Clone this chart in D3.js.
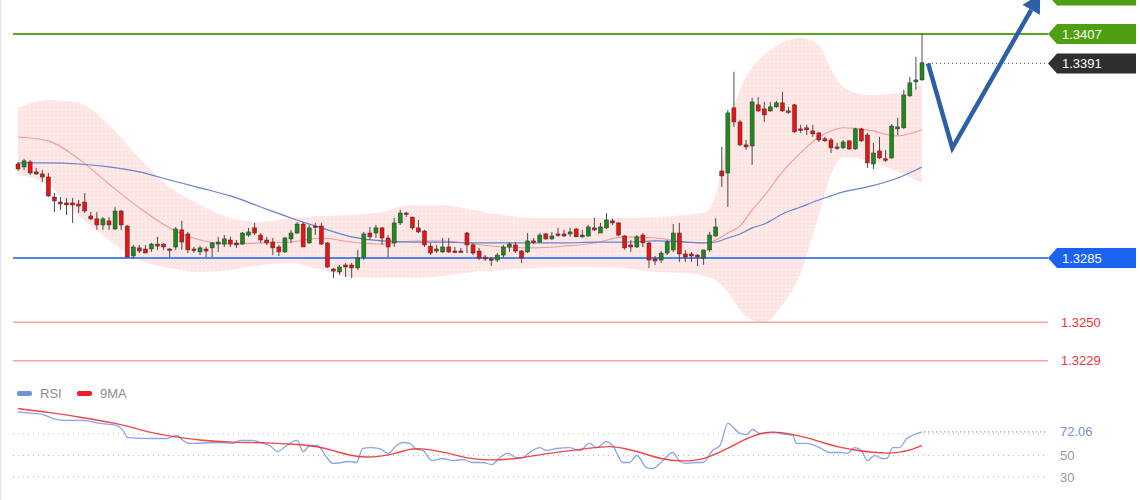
<!DOCTYPE html>
<html>
<head>
<meta charset="utf-8">
<script src="https://cdn.jsdelivr.net/npm/d3@7/dist/d3.min.js"></script>
<style>
  html, body { margin: 0; padding: 0; background: #fff; }
  svg { display: block; font-family: 'Liberation Sans', Arial, sans-serif; }
</style>
</head>
<body>
<svg id="chart" width="1140" height="500"></svg>
<script>
// candles, one per bar, index 0..149
const opens = [1.33362,1.33346,1.33373,1.33319,1.33308,1.33291,1.33182,1.33155,1.33150,1.33150,
  1.33144,1.33155,1.33079,1.33063,1.33030,1.33052,1.33008,1.33106,1.33024,1.32861,
  1.32905,1.32899,1.32899,1.32926,1.32926,1.32899,1.32910,1.33003,1.32981,1.32899,
  1.32883,1.32899,1.32905,1.32926,1.32926,1.32948,1.32932,1.32926,1.32975,1.33014,
  1.32975,1.32948,1.32937,1.32910,1.32883,1.32954,1.32986,1.33035,1.32932,1.33024,
  1.33024,1.32932,1.32790,1.32774,1.32812,1.32812,1.32796,1.32855,1.32986,1.32986,
  1.33014,1.32959,1.32932,1.33041,1.33095,1.33073,1.33014,1.32997,1.32915,1.32899,
  1.32883,1.32910,1.32888,1.32888,1.32986,1.32921,1.32888,1.32855,1.32845,1.32839,
  1.32866,1.32910,1.32921,1.32888,1.32883,1.32943,1.32937,1.32981,1.32954,1.32981,
  1.32981,1.32981,1.33008,1.32965,1.32970,1.33014,1.32986,1.33014,1.33052,1.33041,
  1.32970,1.32921,1.32910,1.32975,1.32932,1.32845,1.32839,1.32877,1.32894,1.32986,
  1.32872,1.32872,1.32866,1.32850,1.32894,1.32970,1.33324,1.33313,1.33668,1.33591,
  1.33466,1.33460,1.33684,1.33662,1.33651,1.33673,1.33695,1.33651,1.33684,1.33553,
  1.33559,1.33542,1.33531,1.33499,1.33493,1.33455,1.33450,1.33488,1.33444,1.33553,
  1.33520,1.33362,1.33433,1.33390,1.33395,1.33553,1.33559,1.33733,1.33809,1.33820];
const highs = [1.33373,1.33390,1.33384,1.33341,1.33330,1.33313,1.33204,1.33182,1.33177,1.33177,
  1.33166,1.33204,1.33101,1.33101,1.33073,1.33073,1.33128,1.33112,1.33030,1.32921,
  1.32921,1.32921,1.32932,1.32965,1.32932,1.32905,1.33019,1.33052,1.32992,1.32910,
  1.32915,1.32910,1.32937,1.32965,1.32975,1.32965,1.32948,1.32992,1.33014,1.33041,
  1.32986,1.32965,1.32959,1.32921,1.32965,1.33003,1.33046,1.33046,1.33030,1.33041,
  1.33041,1.32937,1.32796,1.32812,1.32823,1.32823,1.32894,1.32992,1.33019,1.33030,
  1.33019,1.32975,1.33068,1.33112,1.33101,1.33073,1.33057,1.33003,1.32932,1.32921,
  1.32959,1.32959,1.32910,1.32905,1.32992,1.32932,1.32905,1.32866,1.32855,1.32877,
  1.32921,1.32937,1.32937,1.32894,1.32986,1.32959,1.32986,1.32986,1.32992,1.33014,
  1.33003,1.33014,1.33014,1.33003,1.33030,1.33068,1.33041,1.33095,1.33063,1.33046,
  1.32975,1.32948,1.32975,1.32986,1.32937,1.32861,1.32888,1.32948,1.33035,1.33041,
  1.32894,1.32883,1.32872,1.32894,1.32992,1.33068,1.33455,1.33657,1.33864,1.33602,
  1.33493,1.33722,1.33727,1.33700,1.33700,1.33706,1.33755,1.33673,1.33689,1.33575,
  1.33575,1.33575,1.33537,1.33510,1.33504,1.33477,1.33493,1.33493,1.33559,1.33559,
  1.33531,1.33477,1.33510,1.33439,1.33580,1.33613,1.33766,1.33836,1.33945,1.34071];
const lows = [1.33324,1.33330,1.33302,1.33302,1.33264,1.33182,1.33101,1.33112,1.33084,1.33041,
  1.33095,1.33095,1.33057,1.33003,1.33003,1.33003,1.33003,1.33003,1.32855,1.32845,
  1.32877,1.32877,1.32883,1.32894,1.32894,1.32855,1.32894,1.32894,1.32877,1.32877,
  1.32866,1.32855,1.32855,1.32883,1.32910,1.32910,1.32905,1.32921,1.32965,1.32975,
  1.32932,1.32921,1.32866,1.32861,1.32877,1.32932,1.32981,1.32910,1.32926,1.32975,
  1.32921,1.32796,1.32741,1.32758,1.32747,1.32741,1.32785,1.32839,1.32948,1.32959,
  1.32921,1.32855,1.32910,1.33030,1.33073,1.33003,1.32986,1.32910,1.32866,1.32877,
  1.32877,1.32877,1.32877,1.32877,1.32877,1.32866,1.32839,1.32834,1.32806,1.32828,
  1.32850,1.32883,1.32877,1.32823,1.32877,1.32926,1.32932,1.32948,1.32948,1.32965,
  1.32965,1.32965,1.32965,1.32959,1.32965,1.32997,1.32986,1.33008,1.33030,1.32970,
  1.32894,1.32883,1.32905,1.32910,1.32796,1.32812,1.32823,1.32866,1.32883,1.32828,
  1.32828,1.32828,1.32806,1.32812,1.32883,1.32965,1.33237,1.33128,1.33564,1.33460,
  1.33439,1.33357,1.33646,1.33591,1.33646,1.33668,1.33646,1.33635,1.33531,1.33531,
  1.33520,1.33510,1.33482,1.33482,1.33422,1.33439,1.33444,1.33439,1.33439,1.33482,
  1.33341,1.33335,1.33390,1.33373,1.33390,1.33520,1.33553,1.33727,1.33766,1.33815];
const closes = [1.33335,1.33379,1.33313,1.33308,1.33291,1.33188,1.33161,1.33144,1.33139,1.33139,
  1.33133,1.33106,1.33063,1.33030,1.33063,1.33030,1.33106,1.33030,1.32855,1.32910,
  1.32888,1.32877,1.32926,1.32915,1.32910,1.32894,1.33008,1.32937,1.32894,1.32894,
  1.32905,1.32888,1.32932,1.32937,1.32954,1.32926,1.32921,1.32986,1.32992,1.32986,
  1.32948,1.32932,1.32905,1.32883,1.32959,1.32986,1.33035,1.32910,1.33014,1.33019,
  1.32926,1.32801,1.32779,1.32801,1.32801,1.32796,1.32850,1.32981,1.32965,1.33014,
  1.32959,1.32910,1.33041,1.33095,1.33090,1.33014,1.32992,1.32921,1.32877,1.32888,
  1.32910,1.32883,1.32883,1.32883,1.32921,1.32877,1.32850,1.32845,1.32839,1.32866,
  1.32910,1.32926,1.32888,1.32850,1.32943,1.32937,1.32975,1.32954,1.32970,1.32975,
  1.32970,1.32992,1.32965,1.32975,1.33019,1.33003,1.33019,1.33057,1.33041,1.32975,
  1.32905,1.32910,1.32965,1.32932,1.32839,1.32834,1.32877,1.32937,1.32986,1.32872,
  1.32855,1.32861,1.32855,1.32894,1.32975,1.33019,1.33297,1.33640,1.33591,1.33466,
  1.33455,1.33700,1.33651,1.33629,1.33673,1.33695,1.33651,1.33646,1.33537,1.33548,
  1.33548,1.33526,1.33493,1.33488,1.33450,1.33450,1.33482,1.33444,1.33553,1.33488,
  1.33368,1.33422,1.33395,1.33384,1.33569,1.33564,1.33738,1.33804,1.33820,1.33913];

// bollinger band / moving averages, sampled at these bar indices
const bandIdx = [0,5,10,15,20,25,30,35,40,45,50,55,60,65,70,75,80,85,90,95,100,105,110,113,115,117,119,121,123,126,129,132,134,136,140,145,149];
const bbUpper = [1.33668,1.33711,1.33695,1.33575,1.33395,1.33237,1.33139,1.33068,1.33046,1.33068,
  1.33079,1.33084,1.33101,1.33139,1.33139,1.33112,1.33084,1.33068,1.33068,1.33068,
  1.33068,1.33073,1.33084,1.33095,1.33193,1.33548,1.33766,1.33886,1.33956,1.34022,
  1.34049,1.34011,1.33875,1.33782,1.33738,1.33749,1.33793];
const bbLower = [1.33302,1.33248,1.33084,1.32948,1.32839,1.32796,1.32774,1.32785,1.32812,1.32823,
  1.32785,1.32747,1.32741,1.32741,1.32752,1.32774,1.32785,1.32796,1.32801,1.32801,
  1.32796,1.32774,1.32768,1.32752,1.32730,1.32665,1.32567,1.32512,1.32501,1.32594,
  1.32768,1.33084,1.33302,1.33400,1.33384,1.33319,1.33259];
const bbMid = [1.33509,1.33488,1.33390,1.33253,1.33123,1.33014,1.32948,1.32926,1.32932,1.32937,
  1.32959,1.32937,1.32926,1.32943,1.32943,1.32926,1.32910,1.32905,1.32915,1.32932,
  1.32965,1.32959,1.32937,1.32932,1.32948,1.32986,1.33024,1.33112,1.33188,1.33319,
  1.33422,1.33509,1.33542,1.33559,1.33548,1.33515,1.33548];
const maSlow = [1.33368,1.33368,1.33362,1.33346,1.33319,1.33275,1.33232,1.33188,1.33128,1.33068,
  1.33014,1.32965,1.32943,1.32937,1.32937,1.32932,1.32932,1.32932,1.32932,1.32937,
  1.32937,1.32943,1.32937,1.32932,1.32937,1.32959,1.32981,1.33014,1.33035,1.33090,
  1.33128,1.33166,1.33188,1.33210,1.33237,1.33286,1.33346];

// rsi panel
const rsiIdx = [0,2.5,4.1,5.8,8.1,10.7,13.5,16.3,17.3,18.1,21.7,24.5,26.2,27.2,28.3,32.8,35.4,36.6,38.7,40.4,
  41.5,42.8,44.3,46,47,48.1,49.3,50.9,51.9,54.7,55.8,56.8,58,59.6,61,62.4,63.4,64.6,65.7,66.7,
  68.2,70,71.7,73.3,75,76.6,78.1,79.4,80.7,82.2,83.2,84.3,86,87.1,88.8,90.9,92.6,94.2,95.4,97,
  98,99.7,100.8,102,103.6,104.6,106.3,107.9,109.1,110.2,111.9,112.9,114.5,115.7,117,119,120.1,121.1,122.2,124.4,
  126.7,127.7,128.3,130,132.1,133.8,135.4,136.7,137.9,139,140,141.2,142.5,143.2,144.2,145.3,146.5,147.4,149];
const rsiVal = [90.3,89.1,88.1,84.4,82.6,82.6,79.8,77.9,73.3,66.7,65.8,65.8,68.6,64,61.2,62.1,61.2,64,64,61.2,
  59.3,53.7,59.3,64,53.7,59.3,59.3,48.1,42.6,44.4,43.5,56.5,57.4,56.5,51.9,59.3,62.1,61.2,55.6,54.7,
  45.3,47.2,45.3,46.3,43.5,43.5,41.6,48.1,51.9,48.1,48.1,52.8,57.4,54.7,56.5,57.4,54.7,61.2,57.4,63,
  59.3,43.5,43.5,50,38.8,37.9,45.3,52.8,44.4,42.6,43.5,43.5,54.7,59.3,79.8,70.5,69.5,74.2,70.5,71.4,
  69.5,68.6,61.2,61.2,57.4,52.8,52.8,51.9,57.4,54.7,45.3,50,47.2,47.2,57.4,57.4,65.8,68.6,72.06];
const maIdx = [0,5.3,10.7,16.3,18.9,21.7,24.5,30,35.4,41,46.5,49.3,51.9,54.7,57.5,59.6,62.4,64.6,66.7,70.7,
  74,77.8,82.7,87.1,92.6,98,99.7,102.5,106.3,111.9,114.5,117.3,120.1,122.2,124.4,127.2,130,132.6,135.4,138.2,
  140.9,143.2,145.3,147.4,149];
const maVal = [93.7,90,85.3,79.8,76,71.4,68.6,64,62.1,62.1,60.2,58.4,54.7,50,48.1,49.1,51.9,56.5,56.5,52.8,
  47.2,45.3,47.2,51.9,55.6,59.3,56.5,53.7,45.3,44.4,50,57.4,65.8,70.5,72.3,70.5,66.7,62.1,57.4,54.7,
  52.8,51.9,52.8,55.6,59.3];
const rsiLevels = [70, 50, 30];
const rsiLast = 72.06;

// price levels on the right
const resistance = 1.3407;
const lastPrice = 1.3391;
const pivot = 1.3285;
const supports = [1.3250, 1.3229];
const target = 1.3428;
// forecast arrow: bar index / price
const arrowIdx = [150, 154, 167];
const arrowPrice = [1.3391, 1.33449, 1.34202];

const svg = d3.select('#chart');
const W = 1140, H = 500;
const lineEnd = 1048;

const x = d3.scaleLinear().domain([0, 149]).range([18, 922]);
const y = d3.scaleLinear().domain([pivot, resistance]).range([258, 34]);
const yR = d3.scaleLinear().domain([30, 70]).range([477, 434]);

svg.append('rect').attr('width', W).attr('height', H).attr('fill', '#fff');
svg.append('line')
  .attr('x1', 0.5).attr('x2', 0.5).attr('y1', 0).attr('y2', H)
  .attr('stroke', '#e3e4ec').attr('stroke-width', 1.5);

// dotted pattern for the band
const defs = svg.append('defs');
const pat = defs.append('pattern')
  .attr('id', 'bbDots')
  .attr('width', 4).attr('height', 4)
  .attr('patternUnits', 'userSpaceOnUse');
pat.append('rect').attr('width', 4).attr('height', 4).attr('fill', '#fde5e3');
pat.append('rect').attr('x', 1).attr('y', 1).attr('width', 1).attr('height', 1).attr('fill', '#fff');

// 布林带
const band = bandIdx.map((d, i) => ({ i: d, up: bbUpper[i], lo: bbLower[i], mid: bbMid[i], slow: maSlow[i] }));
svg.append('path')
  .datum(band)
  .attr('fill', 'url(#bbDots)')
  .attr('d', d3.area()
    .curve(d3.curveMonotoneX)
    .x(d => x(d.i))
    .y0(d => y(d.lo))
    .y1(d => y(d.up)));

svg.append('path')
  .datum(band)
  .attr('fill', 'none')
  .attr('stroke', '#f39a9a')
  .attr('stroke-width', 1.1)
  .attr('d', d3.line().curve(d3.curveMonotoneX).x(d => x(d.i)).y(d => y(d.mid)));

svg.append('path')
  .datum(band)
  .attr('fill', 'none')
  .attr('stroke', '#6283cf')
  .attr('stroke-width', 1.2)
  .attr('d', d3.line().curve(d3.curveMonotoneX).x(d => x(d.i)).y(d => y(d.slow)));

// 水平线
function hline(price, color, w, dash, x1) {
  svg.append('line')
    .attr('x1', x1 || 13).attr('x2', lineEnd)
    .attr('y1', y(price)).attr('y2', y(price))
    .attr('stroke', color)
    .attr('stroke-width', w)
    .attr('stroke-dasharray', dash || null);
}
hline(resistance, '#58a61e', 2);
hline(pivot, '#4d86e6', 2);
supports.forEach(p => hline(p, '#f7a5a5', 1.5));
hline(lastPrice, '#555', 1, '1,3', x(149) + 6);

// 蜡烛
const candles = opens.map((o, i) => ({ i, o, h: highs[i], l: lows[i], c: closes[i] }));
const cg = svg.append('g');
const bw = 4;
cg.selectAll('line').data(candles).enter().append('line')
  .attr('x1', d => x(d.i)).attr('x2', d => x(d.i))
  .attr('y1', d => y(d.h)).attr('y2', d => y(d.l))
  .attr('stroke', '#4a4a4a')
  .attr('stroke-width', 1);
cg.selectAll('rect').data(candles).enter().append('rect')
  .attr('x', d => x(d.i) - bw / 2)
  .attr('width', bw)
  .attr('y', d => y(Math.max(d.o, d.c)))
  .attr('height', d => Math.max(1.5, Math.abs(y(d.o) - y(d.c))))
  .attr('fill', d => d.c >= d.o ? '#1d8a1d' : '#ec1212')
  .attr('stroke', '#303030')
  .attr('stroke-width', 0.5);

// 箭头
const ap = arrowIdx.map((d, i) => [x(d), y(arrowPrice[i])]);
svg.append('path')
  .attr('d', d3.line()(ap))
  .attr('fill', 'none')
  .attr('stroke', '#2c5fa3')
  .attr('stroke-width', 4.5)
  .attr('stroke-linejoin', 'miter');
{
  const p1 = ap[1], p2 = ap[2];
  const dx = p2[0] - p1[0], dy = p2[1] - p1[1];
  const len = Math.hypot(dx, dy);
  const ux = dx / len, uy = dy / len;
  const px = -uy, py = ux;
  const tip = [p2[0] + ux * 18, p2[1] + uy * 18];
  const b1 = [p2[0] + px * 10, p2[1] + py * 10];
  const b2 = [p2[0] - px * 10, p2[1] - py * 10];
  svg.append('path')
    .attr('d', `M${tip[0]},${tip[1]} L${b1[0]},${b1[1]} L${b2[0]},${b2[1]} Z`)
    .attr('fill', '#2c5fa3');
}

// 右侧标签
function tag(price, color, text) {
  const yy = y(price);
  const g = svg.append('g');
  g.append('path')
    .attr('d', `M${lineEnd},${yy} L${lineEnd + 9},${yy - 10} H1136 V${yy + 10} H${lineEnd + 9} Z`)
    .attr('fill', color);
  if (text) {
    g.append('text')
      .attr('x', 1062).attr('y', yy)
      .attr('dy', '0.36em')
      .attr('fill', '#fff')
      .style('font-size', '13px')
      .text(text);
  }
}
tag(target, '#4f9f12', null);
tag(resistance, '#4f9f12', resistance.toFixed(4));
tag(lastPrice, '#2f2f2f', lastPrice.toFixed(4));
tag(pivot, '#1a62f0', pivot.toFixed(4));
supports.forEach(p => {
  svg.append('text')
    .attr('x', 1061).attr('y', y(p))
    .attr('dy', '0.36em')
    .attr('fill', '#f2333b')
    .style('font-size', '13px')
    .text(p.toFixed(4));
});

// RSI
rsiLevels.forEach(v => {
  svg.append('line')
    .attr('x1', 13).attr('x2', 1046)
    .attr('y1', yR(v)).attr('y2', yR(v))
    .attr('stroke', '#b4b8c8')
    .attr('stroke-width', 1)
    .attr('stroke-dasharray', '1,4');
});
svg.append('line')
  .attr('x1', x(149) + 2).attr('x2', 1046)
  .attr('y1', yR(rsiLast)).attr('y2', yR(rsiLast))
  .attr('stroke', '#90a6e6')
  .attr('stroke-width', 1.2)
  .attr('stroke-dasharray', '1.5,2.5');

const rsiData = rsiIdx.map((d, i) => [x(d), yR(rsiVal[i])]);
const maData = maIdx.map((d, i) => [x(d), yR(maVal[i])]);
svg.append('path')
  .attr('d', d3.line().curve(d3.curveMonotoneX)(rsiData))
  .attr('fill', 'none')
  .attr('stroke', '#8aa5e8')
  .attr('stroke-width', 1.3);
svg.append('path')
  .attr('d', d3.line().curve(d3.curveBasis)(maData))
  .attr('fill', 'none')
  .attr('stroke', '#ee3236')
  .attr('stroke-width', 1.4)
  .attr('opacity', 0.9);

svg.append('text')
  .attr('x', 1060).attr('y', yR(rsiLast))
  .attr('dy', '0.36em')
  .attr('fill', '#7690dc')
  .style('font-size', '13px')
  .text(rsiLast.toFixed(2));
[50, 30].forEach(v => {
  svg.append('text')
    .attr('x', 1060).attr('y', yR(v))
    .attr('dy', '0.36em')
    .attr('fill', '#9a9a9a')
    .style('font-size', '13px')
    .text(v);
});

// legend
const legend = [['RSI', '#6f93e0', 17], ['9MA', '#ee1c25', 77]];
legend.forEach(l => {
  svg.append('rect')
    .attr('x', l[2]).attr('y', 391)
    .attr('width', 15).attr('height', 5)
    .attr('rx', 2)
    .attr('fill', l[1]);
  svg.append('text')
    .attr('x', l[2] + 23).attr('y', 393.5)
    .attr('dy', '0.36em')
    .attr('fill', '#8c8c8c')
    .style('font-size', '13px')
    .text(l[0]);
});
</script>
</body>
</html>
